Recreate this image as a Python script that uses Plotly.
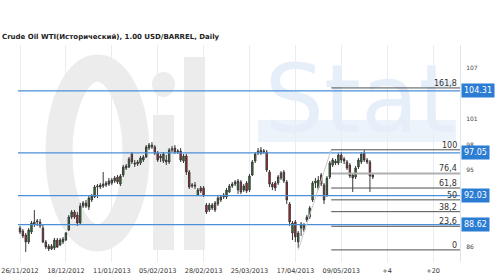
import plotly.graph_objects as go

title = "Crude Oil WTI(Исторический), 1.00 USD/BARREL, Daily"

open_ = [88.22, 87.87, 87.40, 86.58, 87.75, 88.69, 88.93, 88.93, 88.22, 86.58,
         86.11, 85.76, 85.87, 86.81, 86.23, 86.58, 86.81, 87.99, 89.51, 90.10,
         89.75, 88.81, 90.80, 91.16, 90.69, 91.51, 91.86, 93.03, 93.03, 93.15,
         93.27, 93.74, 93.50, 93.74, 94.21, 93.38, 94.44, 95.26, 95.38, 96.91,
         95.85, 95.73, 95.85, 96.20, 96.55, 97.61, 97.73, 97.73, 97.02, 96.67,
         96.08, 96.20, 95.97, 97.37, 97.61, 97.14, 97.26, 96.08, 96.67, 94.79,
         93.15, 93.27, 92.09, 92.92, 92.92, 90.92, 90.33, 90.57, 91.16, 91.04,
         91.51, 91.86, 91.86, 92.45, 93.15, 93.38, 92.68, 93.62, 92.68, 93.50,
         92.68, 94.44, 96.08, 97.02, 97.37, 97.14, 97.14, 94.79, 93.38, 93.50,
         93.50, 94.09, 94.79, 93.62, 91.04, 87.63, 88.93, 86.58, 88.22, 87.99,
         89.51, 89.51, 91.51, 93.50, 92.92, 94.44, 93.27, 92.09, 94.21, 95.61,
         95.85, 95.85, 96.79, 96.32, 95.97, 95.61, 94.44, 94.21, 95.38, 95.97,
         97.02, 96.20, 95.97, 94.44]
high = [88.46, 88.10, 87.63, 88.22, 89.04, 90.33, 89.28, 89.28, 88.69, 86.81,
        86.34, 86.34, 87.05, 87.05, 87.05, 87.17, 87.75, 89.75, 90.33, 90.33,
        90.10, 91.16, 91.39, 91.51, 91.98, 92.21, 93.27, 93.38, 93.50, 94.79,
        93.74, 94.09, 94.09, 94.32, 94.44, 94.56, 95.61, 95.73, 96.55, 97.14,
        96.20, 96.20, 96.67, 96.79, 97.96, 98.20, 98.31, 97.96, 97.26, 96.91,
        97.14, 96.79, 97.61, 97.84, 97.96, 97.49, 97.61, 96.91, 96.91, 95.03,
        93.50, 93.62, 92.92, 93.15, 93.15, 91.16, 91.16, 91.16, 91.39, 91.98,
        92.09, 92.33, 92.92, 93.38, 93.62, 93.85, 93.97, 93.85, 93.38, 93.74,
        94.56, 96.20, 97.14, 97.61, 97.73, 97.49, 97.37, 95.03, 93.62, 93.74,
        94.44, 94.91, 95.03, 93.85, 91.27, 89.04, 89.16, 87.87, 88.93, 88.81,
        89.75, 90.80, 93.74, 94.09, 94.32, 94.68, 93.50, 94.32, 96.08, 96.44,
        96.32, 97.02, 97.14, 96.55, 96.20, 95.85, 94.68, 95.50, 96.44, 97.14,
        97.37, 96.44, 96.20, 94.68]
low = [87.52, 87.05, 85.40, 86.34, 87.52, 88.34, 88.46, 88.22, 86.46, 85.76,
       85.52, 85.64, 85.64, 85.87, 86.11, 86.34, 86.70, 87.87, 89.28, 89.28,
       88.46, 88.69, 90.57, 90.57, 90.33, 91.27, 91.74, 91.74, 92.80, 92.92,
       93.03, 93.15, 93.27, 93.50, 93.38, 93.15, 94.21, 95.03, 95.26, 95.73,
       95.38, 95.50, 95.61, 95.97, 96.44, 97.37, 97.49, 96.79, 95.97, 95.97,
       95.85, 95.61, 95.73, 97.14, 96.91, 96.91, 95.97, 95.85, 94.44, 92.80,
       92.92, 92.80, 91.98, 92.33, 91.86, 89.86, 90.10, 90.33, 90.10, 90.80,
       91.27, 91.63, 91.63, 92.33, 92.92, 93.15, 92.21, 92.21, 92.45, 92.33,
       92.45, 94.32, 95.85, 96.79, 96.79, 96.91, 94.79, 93.03, 92.68, 92.56,
       93.27, 93.85, 93.50, 91.04, 88.46, 86.81, 86.58, 85.87, 87.28, 87.75,
       88.93, 89.28, 91.27, 92.92, 92.68, 93.15, 91.04, 91.86, 93.97, 95.38,
       95.61, 95.61, 95.85, 95.73, 95.03, 94.09, 92.45, 93.97, 95.15, 95.73,
       95.97, 95.73, 92.45, 93.97]
close = [87.75, 87.28, 86.58, 87.99, 88.81, 88.93, 89.04, 88.46, 86.58, 85.99,
         85.76, 86.11, 86.81, 85.99, 86.81, 86.93, 87.63, 89.51, 90.10, 89.51,
         88.81, 90.80, 91.16, 90.80, 91.74, 91.98, 93.03, 93.15, 93.27, 93.38,
         93.50, 93.38, 93.85, 94.09, 93.62, 94.32, 95.38, 95.50, 96.32, 95.97,
         95.73, 95.97, 96.44, 96.55, 97.73, 97.96, 97.96, 97.02, 96.20, 96.44,
         96.91, 95.97, 97.37, 97.49, 97.14, 97.26, 96.20, 96.67, 94.79, 93.03,
         93.27, 93.15, 92.68, 92.56, 92.09, 90.10, 90.92, 90.92, 90.33, 91.74,
         91.86, 92.09, 92.68, 93.15, 93.38, 93.62, 93.74, 92.45, 93.15, 92.56,
         94.32, 95.97, 96.91, 97.26, 97.02, 97.26, 95.03, 93.38, 93.03, 92.92,
         94.21, 94.68, 93.74, 91.51, 88.93, 88.81, 87.17, 87.63, 88.69, 88.57,
         89.16, 90.57, 93.50, 93.74, 93.85, 93.38, 91.51, 94.09, 95.85, 96.20,
         96.08, 96.79, 96.20, 96.08, 95.26, 94.32, 94.09, 95.26, 96.20, 96.91,
         96.20, 95.97, 94.32, 94.21]
bar_index = list(range(len(close)))

tick_pos = [0, 16, 32, 48, 64, 80, 96, 112, 128, 144]
tick_text = ["26/11/2012", "18/12/2012", "11/01/2013", "05/02/2013", "28/02/2013",
             "25/03/2013", "17/04/2013", "09/05/2013", "+4", "+20"]
price_ticks = [86, 95, 98, 101, 107]
levels = [104.31, 97.05, 92.03, 88.62]
fib_ratios = [0, 23.6, 38.2, 50, 61.8, 76.4, 100, 161.8]
fib_low, fib_high = 85.65, 97.40
fib_low_idx, fib_high_idx = 97, 108.5

x_range = [-0.7, 153.4]
y_range = [84.23, 109.70]

# plot area in pixels (for placing the faint watermark)
L, R, T, B = 18, 460, 45, 262


def px(xp):
    return (xp - L) / (R - L)


def py(yp):
    return (B - yp) / (B - T)


fig = go.Figure()

# faint "Stat" watermark text, drawn below candles and lines
fig.add_trace(go.Scatter(x=[118.5], y=[102.2], mode="text", text=["Stat"],
                         textfont=dict(family="DejaVu Sans", size=94, color="#e6eff9"),
                         showlegend=False, hoverinfo="skip", cliponaxis=False))

fig.add_trace(go.Candlestick(
    x=bar_index, open=open_, high=high, low=low, close=close,
    increasing=dict(fillcolor="#1f8f1f", line=dict(color="#3a3a3a", width=1)),
    decreasing=dict(fillcolor="#e8101a", line=dict(color="#3a3a3a", width=1)),
    whiskerwidth=0, showlegend=False, hoverinfo="skip",
))

shapes = []
annotations = []

# watermark "Oil" drawn with faint shapes below the data
wm = "#ececec"
shapes.append(dict(type="circle", xref="paper", yref="paper", x0=px(59), x1=px(136), y0=py(238), y1=py(68),
                   line=dict(color=wm, width=27), layer="below"))
shapes.append(dict(type="rect", xref="paper", yref="paper", x0=px(153), x1=px(174), y0=py(250), y1=py(115),
                   fillcolor=wm, line=dict(width=0), layer="below"))
shapes.append(dict(type="circle", xref="paper", yref="paper", x0=px(152), x1=px(175), y0=py(97), y1=py(72),
                   fillcolor=wm, line=dict(width=0), layer="below"))
shapes.append(dict(type="rect", xref="paper", yref="paper", x0=px(184), x1=px(205), y0=py(250), y1=py(57),
                   fillcolor=wm, line=dict(width=0), layer="below"))
shapes.append(dict(type="rect", xref="paper", yref="paper", x0=px(258), x1=px(456), y0=py(142), y1=py(120),
                   fillcolor="#edf3fa", line=dict(width=0), layer="below"))

# support/resistance lines
for lv in levels:
    shapes.append(dict(type="line", xref="x", yref="y", x0=x_range[0], x1=x_range[1], y0=lv, y1=lv,
                       line=dict(color="#4a8fd8", width=1.2)))
    annotations.append(dict(xref="paper", yref="y", x=1, y=lv, xanchor="left", yanchor="middle",
                            xshift=1, text=f"{lv:.2f}", showarrow=False, bgcolor="#2b7cd3",
                            borderpad=2, font=dict(family="DejaVu Sans", size=8, color="white")))

# fibonacci
rng = fib_high - fib_low
shapes.append(dict(type="line", xref="x", yref="y", x0=fib_low_idx, x1=fib_high_idx,
                   y0=fib_low, y1=fib_high, line=dict(color="#c8c8c8", width=1)))
for r in fib_ratios:
    lv = fib_low + rng * r / 100
    light = (r == 76.4)
    shapes.append(dict(type="line", xref="x", yref="y", x0=fib_high_idx, x1=x_range[1], y0=lv, y1=lv,
                       line=dict(color="#b0b0b0" if light else "#505050", width=2 if light else 1)))
    lab = (f"{r:g}").replace(".", ",")
    annotations.append(dict(xref="paper", yref="y", x=1, y=lv, xanchor="right", yanchor="bottom",
                            xshift=-1, yshift=-2, text=lab, showarrow=False,
                            font=dict(family="DejaVu Sans", size=8, color="#333")))

fig.update_layout(
    width=500, height=279,
    margin=dict(l=L, r=500 - R, t=T, b=279 - B),
    paper_bgcolor="white", plot_bgcolor="white",
    title=dict(text="<b>" + title + "</b>", xref="container", yref="container", x=0.004, y=1 - 37 / 279,
               xanchor="left", yanchor="middle", font=dict(family="DejaVu Sans", size=7, color="#222")),
    shapes=shapes, annotations=annotations,
    xaxis=dict(range=x_range, tickvals=tick_pos, ticktext=tick_text, showgrid=True,
               gridcolor="#e6edf4", gridwidth=1, zeroline=False, showline=False,
               rangeslider=dict(visible=False), ticks="", ticklabelstandoff=3,
               ticklabeloverflow="allow", automargin=False,
               tickfont=dict(family="DejaVu Sans", size=6.5, color="#333")),
    yaxis=dict(range=y_range, side="right", tickvals=price_ticks, ticktext=[str(v) for v in price_ticks],
               showgrid=False, zeroline=False, showline=True, linecolor="#dde6ef", ticks="",
               ticklabelstandoff=4, automargin=False,
               tickfont=dict(family="DejaVu Sans", size=6, color="#444")),
)

fig.write_html("out.html")
